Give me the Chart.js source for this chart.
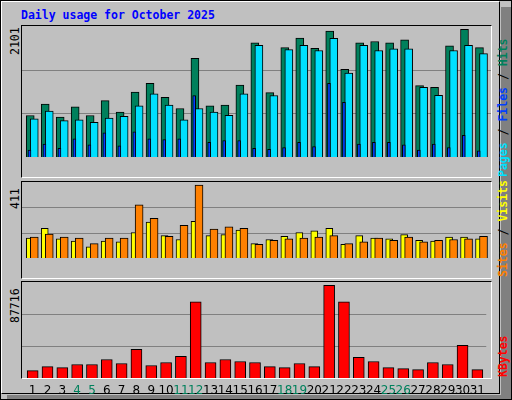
<!DOCTYPE html>
<html>
<head>
<meta charset="utf-8">
<script src="https://cdn.jsdelivr.net/npm/chart.js@4"></script>
<style>
  body { margin: 0; background: #c0c0c0; }
  #frame { position: absolute; left: 0; top: 0; width: 510px; height: 398px; border: 1px solid #000; background: #c0c0c0; overflow: hidden; font-family: "DejaVu Sans Mono", monospace; }
  #shadowR { position: absolute; left: 500px; top: 6px; width: 10px; height: 392px; background: #808080; }
  #shadowB { position: absolute; left: 6px; top: 394px; width: 504px; height: 4px; background: #808080; }
  #inner { position: absolute; left: 0; top: 0; width: 499px; height: 393px; border-top: 1px solid #fff; border-left: 1px solid #fff; border-right: 1px solid #000; border-bottom: 1px solid #000; box-sizing: border-box; }
  #title { position: absolute; left: 20px; top: 7px; color: #0000ff; font-weight: bold; font-size: 11.5px; }
  .panel { position: absolute; left: 20px; width: 471px; border-top: 1px solid #000; border-left: 1px solid #000; border-right: 1px solid #fff; border-bottom: 1px solid #fff; box-sizing: border-box; }
  canvas { position: absolute; }
  .vl { position: absolute; transform-origin: left top; transform: rotate(-90deg); white-space: nowrap; font-size: 11.5px; }
  .side { font-weight: bold; }
</style>
</head>
<body>
<div id="frame">
  <div id="shadowR"></div><div id="shadowB"></div>
  <div id="inner"></div>
  <div id="title">Daily usage for October 2025</div>
  <div class="panel" style="top:24px;height:153px"></div>
  <div class="panel" style="top:180px;height:98px"></div>
  <div class="panel" style="top:280px;height:98px"></div>
  <canvas id="c1" style="left:21px;top:25px"></canvas>
  <canvas id="c2" style="left:21px;top:181px"></canvas>
  <canvas id="c3" style="left:21px;top:281px"></canvas>
  <div class="vl" style="left:7px;top:54px">2101</div>
  <div class="vl" style="left:7px;top:208px">411</div>
  <div class="vl" style="left:7px;top:322px">87716</div>
  <div class="vl side" style="left:495px;top:176px"><span style="color:#00e0ff">Pages</span> / <span style="color:#0040ff">Files</span> / <span style="color:#00805c">Hits</span></div>
  <div class="vl side" style="left:495px;top:276px"><span style="color:#ff8000">Sites</span> / <span style="color:#ffff00">Visits</span></div>
  <div class="vl side" style="left:495px;top:376px"><span style="color:#ff0000">KBytes</span></div>
</div>
<script>
const days = Array.from({ length: 31 }, (_, i) => i + 1);
const weekend = [4, 5, 11, 12, 18, 19, 25, 26];

const hits   = [666, 847, 639, 806, 666, 903, 722, 1042, 1181, 958, 778, 1583, 819, 833, 1153, 1833,
                1032, 1755, 1907, 1741, 2019, 1407, 1833, 1852, 1833, 1880, 1144, 1116, 1783, 2046, 1755];
const files  = [611, 736, 583, 597, 556, 625, 653, 819, 1014, 833, 597, 778, 722, 667, 1014, 1792,
                986, 1722, 1792, 1708, 1903, 1347, 1792, 1708, 1736, 1736, 1116, 991, 1708, 1792, 1658];
const pages  = [111, 208, 139, 292, 194, 389, 181, 403, 292, 278, 292, 986, 236, 264, 264, 139,
                125, 153, 236, 167, 1181, 875, 208, 236, 236, 194, 111, 208, 153, 347, 97];
const sites  = [108, 160, 104, 91, 61, 91, 87, 138, 194, 121, 100, 198, 121, 126, 151, 78,
                100, 117, 138, 147, 160, 74, 121, 108, 104, 126, 96, 91, 113, 113, 104];
const visits = [113, 130, 113, 108, 78, 108, 108, 288, 215, 117, 177, 395, 156, 168, 160, 74,
                96, 104, 108, 113, 121, 78, 87, 108, 96, 113, 87, 96, 100, 104, 117];
const kbytes = [6770, 10460, 9540, 12310, 12310, 16930, 13230, 26160, 11390, 14160, 19700, 69560, 14160, 16930, 15080, 14160,
                10460, 9540, 13230, 10460, 84640, 69560, 18780, 15080, 9540, 8620, 7700, 14160, 12310, 29860, 7700];

const maxHits = 2101, maxVisits = 411, maxKB = 87716;

function series(vals, shift) {
  return vals.map((v, i) => ({ x: days[i] + shift, y: v }));
}
// order: lower number is drawn on top
function ds(vals, shift, color, width, order) {
  return { data: series(vals, shift), backgroundColor: color, borderColor: '#000', borderWidth: 1,
           barThickness: width, borderSkipped: 'bottom', grouped: false, order };
}

const gridPlugin = {
  id: 'thirds',
  beforeDatasetsDraw(chart) {
    const { ctx, chartArea, scales } = chart;
    ctx.save();
    ctx.strokeStyle = '#808080';
    ctx.lineWidth = 1;
    [1, 2].forEach(k => {
      const y = Math.round(scales.y.getPixelForValue(scales.y.max * k / 3)) + 0.5;
      ctx.beginPath(); ctx.moveTo(chartArea.left, y); ctx.lineTo(chartArea.right, y); ctx.stroke();
    });
    ctx.restore();
  }
};

function makeChart(id, w, h, datasets, max, withLabels) {
  const c = document.getElementById(id);
  c.style.width = w + 'px'; c.style.height = h + 'px';
  return new Chart(c, {
    type: 'bar',
    data: { datasets },
    plugins: [gridPlugin],
    options: {
      responsive: false, animation: false, devicePixelRatio: 1,
      layout: { padding: 0 },
      plugins: { legend: { display: false }, tooltip: { enabled: false } },
      scales: {
        x: {
          type: 'linear', min: 0.28, max: 31.6, display: withLabels, offset: false,
          grid: { display: false, drawTicks: false }, border: { display: false },
          afterBuildTicks: s => { s.ticks = days.map(v => ({ value: v })); },
          afterFit: s => { s.height = 20; },
          ticks: {
            padding: 6, autoSkip: false, maxRotation: 0,
            font: { family: 'DejaVu Sans', size: 12 },
            color: ctx => weekend.includes(ctx.tick.value) ? '#00805c' : '#000'
          }
        },
        y: { min: 0, max: max, display: false }
      }
    }
  });
}

makeChart('c1', 469, 151, [
  ds(hits, -0.17, '#00805c', 8, 3),
  ds(files, 0.1, '#00e0ff', 8, 2),
  ds(pages, -0.22, '#0040ff', 3, 1)
], maxHits, false);

makeChart('c2', 469, 96, [
  ds(sites, -0.2, '#ffff00', 7, 2),
  ds(visits, 0.1, '#ff8000', 8, 1)
], maxVisits, false);

makeChart('c3', 469, 116, [
  ds(kbytes, 0, '#ff0000', 11, 1)
], maxKB, true);
</script>
</body>
</html>
